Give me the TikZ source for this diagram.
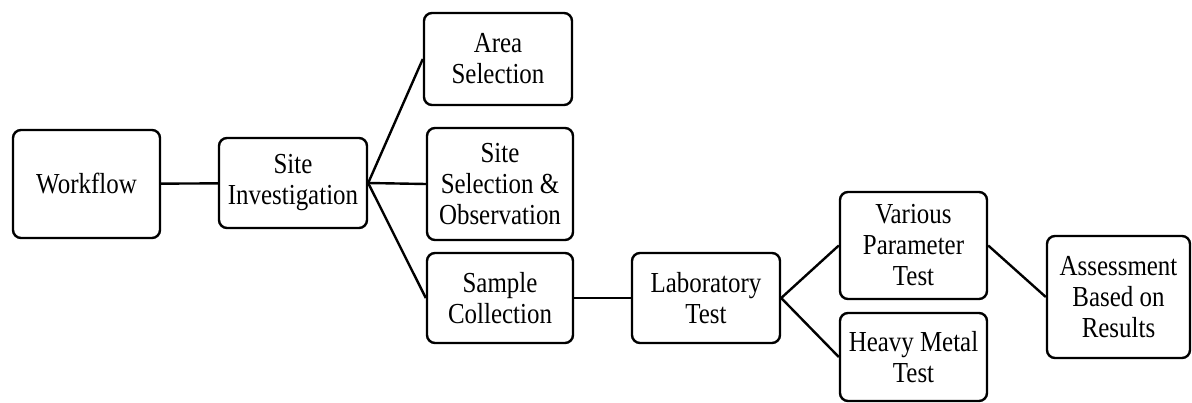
\documentclass[tikz,border=0pt]{standalone}
\usepackage{fontspec}
\setmainfont[FakeStretch=0.86]{Liberation Serif}
\usepackage{tikz}

\tikzset{
    stage/.style={draw, line width=2.4pt, rounded corners=8pt, align=center,
        inner sep=0pt, font=\fontsize{29}{31}\selectfont},
    link/.style={line width=2.4pt}
}

\begin{document}
\begin{tikzpicture}[x=1pt, y=-1pt]
    \useasboundingbox (0,0) rectangle (1192,403);

    % first level
    \node[stage, minimum width=147pt, minimum height=108pt] (wf) at (86.5,184) {Workflow};
    \node[stage, minimum width=148pt, minimum height=90pt] (si) at (293,183) {Site\\Investigation};

    % site investigation branches
    \node[stage, minimum width=148pt, minimum height=92pt] (area) at (498,59) {Area\\Selection};
    \node[stage, minimum width=146pt, minimum height=112pt] (sitesel) at (500,184) {Site\\Selection \&\\Observation};
    \node[stage, minimum width=146pt, minimum height=90pt] (sample) at (500,298) {Sample\\Collection};

    % laboratory part
    \node[stage, minimum width=148pt, minimum height=90pt] (lab) at (706,298) {Laboratory\\Test};
    \node[stage, minimum width=147pt, minimum height=107pt] (various) at (913.5,245.5) {Various\\Parameter\\Test};
    \node[stage, minimum width=147pt, minimum height=88pt] (heavy) at (913.5,357) {Heavy Metal\\Test};
    \node[stage, minimum width=143pt, minimum height=122pt] (assess) at (1118.5,297) {Assessment\\Based on\\Results};

    \draw[link] (wf) -- (si);
    \foreach \t in {area, sitesel, sample}
        \draw[link] (si.east) -- (\t.west);
    \draw[link] (sample) -- (lab);
    \foreach \t in {various, heavy}
        \draw[link] (lab.east) -- (\t.west);
    \draw[link] (various.east) -- (assess.west);
\end{tikzpicture}
\end{document}
